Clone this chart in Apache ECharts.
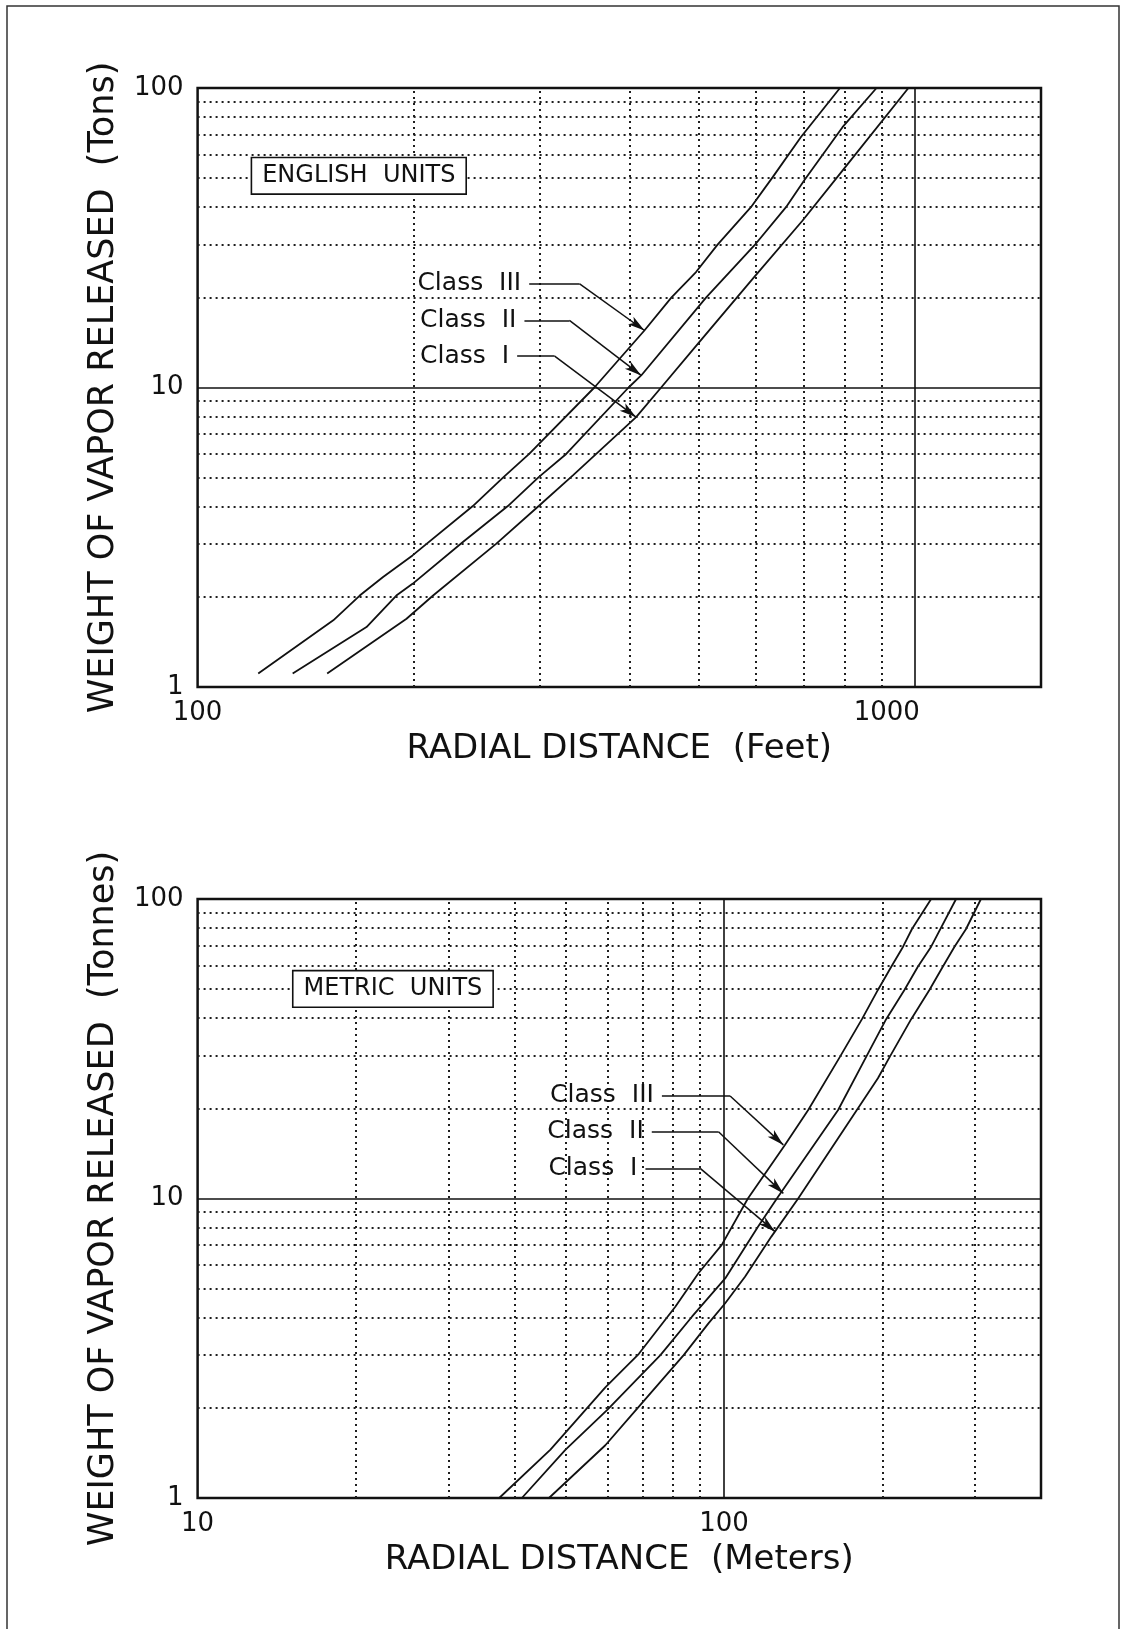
<!DOCTYPE html>
<html>
<head>
<meta charset="utf-8">
<title>Weight of vapor released vs radial distance</title>
<script src="https://cdn.jsdelivr.net/npm/echarts@6/dist/echarts.min.js"></script>
<style>
  html, body { margin: 0; padding: 0; background: #fff; }
  #chart { width: 1126px; height: 1629px; }
</style>
</head>
<body>
<div id="chart"></div>
<script>
// English units: radial distance (feet) / weight (tons)
const feetClassIII = [121.5, 154.6, 168.3, 181.4, 199.4, 242, 266.6, 290, 357.5, 419.8, 458, 495.5, 531, 591, 633.8, 694, 786.6]
const tonsClassIII = [1.11, 1.67, 2.02, 2.33, 2.75, 4.02, 5.0, 6.0, 10, 15.5, 20, 24.3, 30, 40, 50.4, 68.6, 100]
const feetClassII = [135.7, 172, 189.3, 199.4, 234.4, 270.8, 299, 326.6, 399, 415.5, 512, 597.5, 661.5, 701.5, 793, 884.6]
const tonsClassII = [1.11, 1.585, 2.02, 2.21, 3.05, 4.02, 5.02, 6.0, 10, 10.97, 20, 29.8, 40, 49.2, 74, 100]
const feetClassI = [151.6, 195.6, 213, 261, 299, 333.7, 408.8, 443, 501, 597.5, 697.7, 793, 980]
const tonsClassI = [1.11, 1.69, 2.02, 3.01, 4.02, 5.09, 7.96, 10, 14.2, 23.4, 36.1, 53, 100]

// Metric units: radial distance (meters) / weight (tonnes)
const metersClassIII = [37.4, 46.8, 59.5, 68.9, 80.8, 89.4, 99, 111, 130.5, 144.5, 166, 182.8, 196, 207.8, 218.8, 227.5, 247.4]
const tonnesClassIII = [1.0, 1.45, 2.34, 3.03, 4.35, 5.63, 7.0, 10, 15.1, 19.75, 29.7, 39.7, 49.7, 59.4, 69.3, 79.4, 100]
const metersClassII = [41.3, 50, 60, 75.7, 86.9, 100.5, 116, 126, 164.7, 186.2, 203.2, 220.1, 233.4, 247.4, 275.9]
const tonnesClassII = [1.0, 1.45, 1.97, 3.0, 4.03, 5.41, 8.05, 10, 19.75, 29.7, 39.7, 49.7, 59.4, 69.3, 100]
const metersClassI = [46.5, 59.5, 68.9, 83.8, 93.4, 100.5, 109.6, 123, 138.3, 196, 206.4, 226.7, 245.5, 260.3, 274, 288.2, 307.6]
const tonnesClassI = [1.0, 1.5, 2.02, 3.0, 3.83, 4.47, 5.48, 7.46, 10, 25.2, 29.7, 39.7, 49.7, 59.4, 69.3, 79.4, 100]

// grid lines
const weightMinor = [2, 3, 4, 5, 6, 7, 8, 9, 20, 30, 40, 50, 60, 70, 80, 90]
const weightMajor = [10]
const feetMinor = [200, 300, 400, 500, 600, 700, 800, 900]
const feetMajor = [1000]
const metersMinor = [20, 30, 40, 50, 60, 70, 80, 90, 200, 300]
const metersMajor = [100]

const classNames = ['Class  III', 'Class  II', 'Class  I']

// leader lines in data units: start, elbow, arrow tip
const englishLeaders = [
  [[290, 22.2], [341, 22.2], [420, 15.5]],
  [[285.6, 16.75], [330, 16.75], [415.5, 10.97]],
  [[279, 12.73], [314.7, 12.73], [408.8, 7.96]]
]
const metricLeaders = [
  [[76.2, 22.0], [102.7, 22.0], [129.6, 15.1]],
  [[72.9, 16.7], [97.6, 16.7], [129.6, 10.4]],
  [[70.9, 12.6], [90.1, 12.6], [125, 7.75]]
]
const englishBox = [167.8, 50.9]
const metricBox = [23.5, 50.1]

const FONT = 'DejaVu Sans'
const INK = '#111'

const chart = echarts.init(document.getElementById('chart'))

function zip(xs, ys) {
  return xs.map((x, i) => [x, ys[i]])
}

function decadeLabel(v) {
  const l = Math.log10(v)
  if (Math.abs(l - Math.round(l)) > 1e-6) return ''
  return String(Math.round(v))
}

function curve(name, xs, ys, gi) {
  return {
    name,
    type: 'line',
    xAxisIndex: gi,
    yAxisIndex: gi,
    data: zip(xs, ys),
    symbol: 'none',
    lineStyle: { color: INK, width: 1.8 },
    z: 3,
    silent: true,
  }
}

function gridLines(gi, xMinor, xMajor, yMinor, yMajor) {
  const dot = { color: '#1e1e1e', width: 2, type: [2, 4] }
  const solid = { color: INK, width: 1.6, type: 'solid' }
  return {
    type: 'line',
    xAxisIndex: gi,
    yAxisIndex: gi,
    data: [],
    z: 1,
    silent: true,
    markLine: {
      silent: true,
      symbol: ['none', 'none'],
      label: { show: false },
      animation: false,
      data: [
        ...xMinor.map((v) => ({ xAxis: v, lineStyle: dot })),
        ...yMinor.map((v) => ({ yAxis: v, lineStyle: dot })),
        ...xMajor.map((v) => ({ xAxis: v, lineStyle: solid })),
        ...yMajor.map((v) => ({ yAxis: v, lineStyle: solid })),
      ],
    },
  }
}

function leaders(gi, list) {
  const data = []
  list.forEach(([a, b, c]) => {
    data.push([{ coord: a }, { coord: b }])
    data.push([{ coord: b }, { coord: c, symbol: 'arrow', symbolSize: [7, 17] }])
  })
  return {
    type: 'line',
    xAxisIndex: gi,
    yAxisIndex: gi,
    data: [],
    z: 4,
    silent: true,
    markLine: {
      silent: true,
      symbol: ['none', 'none'],
      label: { show: false },
      animation: false,
      lineStyle: { color: INK, width: 1.5, type: 'solid' },
      itemStyle: { color: '#2a2a2a' },
      data,
    },
  }
}

function labels(gi, list, box, boxText) {
  const text = { fontFamily: FONT, fontSize: 25, color: INK, opacity: 1 }
  const data = list.map((l, i) => ({
    value: l[0],
    label: { ...text, show: true, position: 'left', distance: 8, formatter: classNames[i] },
  }))
  data.push({
    value: box,
    label: {
      ...text,
      fontSize: 24,
      show: true,
      position: 'inside',
      formatter: boxText,
      backgroundColor: '#ffffff',
      borderColor: INK,
      borderWidth: 1.6,
      padding: [6, 10, 5, 10],
    },
  })
  return {
    type: 'scatter',
    xAxisIndex: gi,
    yAxisIndex: gi,
    symbolSize: 0,
    itemStyle: { color: INK, opacity: 1 },
    z: 6,
    silent: true,
    data,
  }
}

function xAxis(gi, min, max, name, formatter) {
  return {
    gridIndex: gi,
    type: 'log',
    logBase: 10,
    min,
    max,
    axisLine: { show: false },
    axisTick: { show: false },
    splitLine: { show: false },
    axisLabel: {
      margin: 13,
      fontFamily: FONT,
      fontSize: 26,
      color: INK,
      formatter: formatter || decadeLabel,
      rich: { s: { fontFamily: FONT, fontSize: 26, color: INK, padding: [0, 56, 0, 0] } },
    },
    name,
    nameLocation: 'middle',
    nameGap: 45,
    nameTextStyle: { fontFamily: FONT, fontSize: 34, color: INK },
  }
}

function yAxis(gi, name) {
  return {
    gridIndex: gi,
    type: 'log',
    logBase: 10,
    min: 1,
    max: 100,
    axisLine: { show: false },
    axisTick: { show: false },
    splitLine: { show: false },
    axisLabel: { margin: 14, fontFamily: FONT, fontSize: 26, color: INK, formatter: decadeLabel },
    name,
    nameLocation: 'middle',
    nameGap: 76,
    nameTextStyle: { fontFamily: FONT, fontSize: 35, color: INK },
  }
}

const option = {
  animation: false,
  backgroundColor: '#fff',
  graphic: [
    {
      type: 'rect',
      silent: true,
      z: -10,
      shape: { x: 7, y: 6, width: 1112, height: 1660 },
      style: { fill: 'none', stroke: '#333', lineWidth: 1.5 },
    },
  ],
  grid: [
    { left: 197.6, top: 88, width: 843.4, height: 599, show: true, borderColor: INK, borderWidth: 2.5, backgroundColor: 'transparent' },
    { left: 197.6, top: 899, width: 843.4, height: 599, show: true, borderColor: INK, borderWidth: 2.5, backgroundColor: 'transparent' },
  ],
  xAxis: [
    xAxis(0, 100, 1500, 'RADIAL DISTANCE  (Feet)', (v) => {
      const t = decadeLabel(v)
      return t === '1000' ? '{s|1000}' : t
    }),
    xAxis(1, 10, 400, 'RADIAL DISTANCE  (Meters)'),
  ],
  yAxis: [
    yAxis(0, 'WEIGHT OF VAPOR RELEASED  (Tons)'),
    yAxis(1, 'WEIGHT OF VAPOR RELEASED  (Tonnes)'),
  ],
  series: [
    gridLines(0, feetMinor, feetMajor, weightMinor, weightMajor),
    gridLines(1, metersMinor, metersMajor, weightMinor, weightMajor),
    curve('Class III', feetClassIII, tonsClassIII, 0),
    curve('Class II', feetClassII, tonsClassII, 0),
    curve('Class I', feetClassI, tonsClassI, 0),
    curve('Class III', metersClassIII, tonnesClassIII, 1),
    curve('Class II', metersClassII, tonnesClassII, 1),
    curve('Class I', metersClassI, tonnesClassI, 1),
    leaders(0, englishLeaders),
    leaders(1, metricLeaders),
    labels(0, englishLeaders, englishBox, 'ENGLISH  UNITS'),
    labels(1, metricLeaders, metricBox, 'METRIC  UNITS'),
  ],
}

chart.setOption(option)
</script>
</body>
</html>
